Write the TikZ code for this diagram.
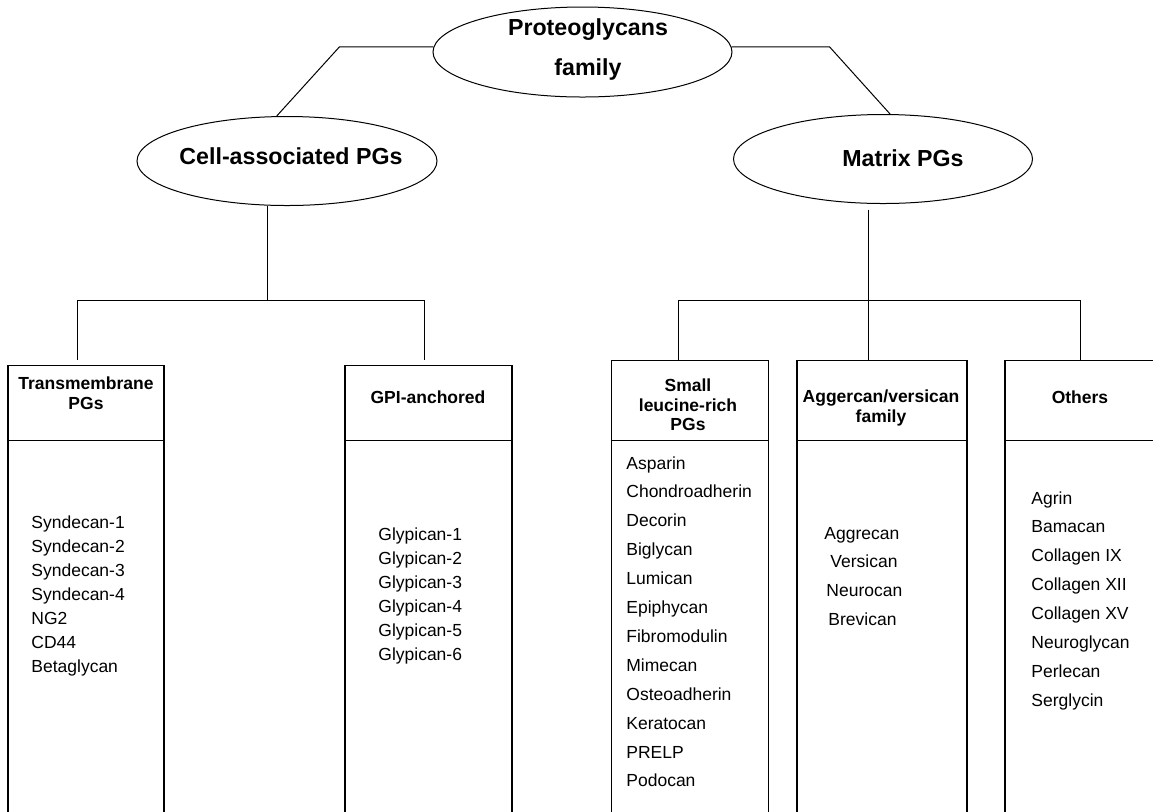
\documentclass[tikz,border=0pt]{standalone}
\usepackage{fontspec}
\setmainfont{Liberation Sans}
\usetikzlibrary{shapes.geometric}

\begin{document}
\begin{tikzpicture}[
  x=0.5pt, y=-0.5pt,
  oval/.style={ellipse, draw, inner sep=0pt, line width=0.5pt},
  ovaltext/.style={font=\bfseries\fontsize{11.6}{20}\selectfont, align=center, inner sep=0pt},
  box/.style={rectangle, draw, anchor=north, minimum height=240pt, inner sep=0pt, line width=0.6pt},
  hdr/.style={font=\bfseries\fontsize{8.75}{9.75}\selectfont, align=center, inner sep=0pt},
  entry/.style={anchor=base west, inner sep=0pt, font=\fontsize{8.75}{10}\selectfont},
  link/.style={line width=0.5pt}
]
\useasboundingbox (0,0) rectangle (1153,811);
\clip (0,0) rectangle (1153,811);

% ellipses
\node (fam)  [oval, minimum width=149.5pt, minimum height=45pt]   at (582.5,52) {};
\node (cell) [oval, minimum width=150pt,   minimum height=44.5pt] at (287,161) {};
\node (mat)  [oval, minimum width=149.5pt, minimum height=44.5pt] at (883,159) {};
\node (famtxt)  [ovaltext] at (588,49.5) {Proteoglycans\\family};
\node (celltxt) [ovaltext] at (291,156)  {Cell-associated PGs};
\node (mattxt)  [ovaltext] at (903,158)  {Matrix PGs};

% boxes
\node (tm)   [box, minimum width=78pt]    at (86,365)    {};
\node (gpi)  [box, minimum width=83.5pt]  at (428.5,365) {};
\node (slrp) [box, minimum width=78.25pt] at (690,360)   {};
\node (agg)  [box, minimum width=85pt]    at (882,360)   {};
\node (oth)  [box, minimum width=75pt]    at (1080,360)  {};
\coordinate (hline) at (0,440);
\foreach \b in {tm,gpi,slrp,agg,oth}
  \draw[link] (\b.west |- hline) -- (\b.east |- hline);

% headers
\node (tmh)   [hdr] at (86,393)  {Transmembrane\\PGs};
\node (gpih)  [hdr] at (428,397) {GPI-anchored};
\node (slrph) [hdr] at (688,405) {Small\\leucine-rich\\PGs};
\node (aggh)  [hdr] at (881,408) {Aggercan/versican\\family};
\node (othh)  [hdr] at (1080,397) {Others};

% lists
\foreach \t [count=\i from 0] in {Syndecan-1,Syndecan-2,Syndecan-3,Syndecan-4,NG2,CD44,Betaglycan}
  \node (tm-\i) [entry] at (31,{528+24*\i}) {\t};
\foreach \t [count=\i from 0] in {Glypican-1,Glypican-2,Glypican-3,Glypican-4,Glypican-5,Glypican-6}
  \node (gpi-\i) [entry] at (378,{540+24*\i}) {\t};
\foreach \t [count=\i from 0] in {Asparin,Chondroadherin,Decorin,Biglycan,Lumican,Epiphycan,Fibromodulin,Mimecan,Osteoadherin,Keratocan,PRELP,Podocan}
  \node (slrp-\i) [entry] at (626,{469+28.9*\i}) {\t};
\foreach \t/\dx [count=\i from 0] in {Aggrecan/824,Versican/830,Neurocan/826,Brevican/828}
  \node (agg-\i) [entry] at (\dx,{539+28.7*\i}) {\t};
\foreach \t [count=\i from 0] in {Agrin,Bamacan,Collagen IX,Collagen XII,Collagen XV,Neuroglycan,Perlecan,Serglycin}
  \node (oth-\i) [entry] at (1031,{504+28.86*\i}) {\t};

% connectors
\draw[link] (fam.178) -- ++(-94,0) -- (cell.103);
\draw[link] (fam.2) -- ++(98,0) -- (mat.81);
\coordinate (cbar) at (267,300);
\coordinate (mbar) at (868,300);
\draw[link] (cbar |- cell.south) -- (cbar);
\draw[link] ([xshift=-4.5pt,yshift=2.5pt]tm.north) |- (cbar) -| ([xshift=-2.25pt,yshift=2.5pt]gpi.north);
\draw[link, shorten <=2.75pt] (mbar |- mat.south) -- (mbar);
\draw[link] ([xshift=-6pt]slrp.north) |- (mbar) -| (oth.north);
\draw[link] (mbar) -- (mbar |- agg.north);
\end{tikzpicture}
\end{document}
